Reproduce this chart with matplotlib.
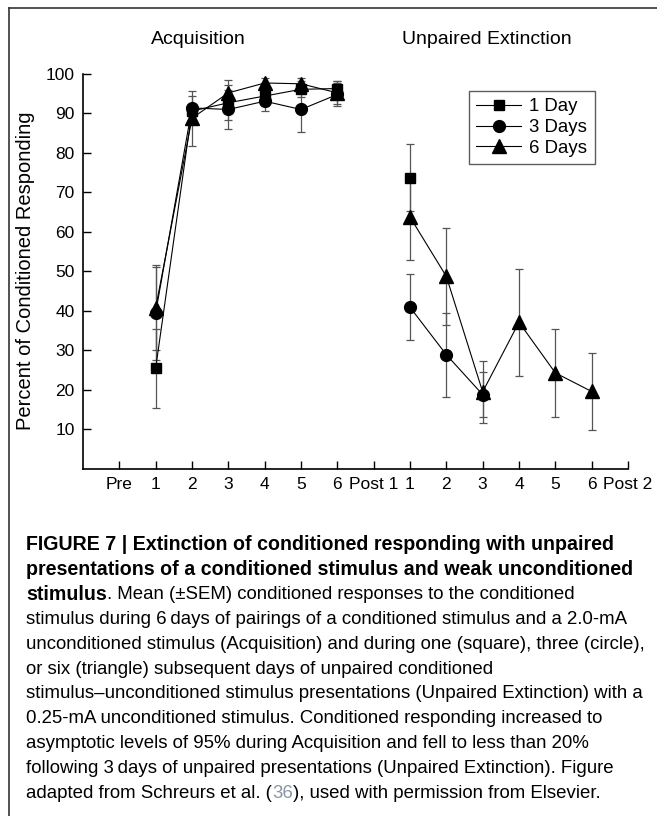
import numpy as np
import matplotlib
matplotlib.use('Agg')
import matplotlib.pyplot as plt
from matplotlib.lines import Line2D

plt.rcParams['font.family'] = ['Liberation Sans', 'DejaVu Sans']

# x categories (Pre, Acquisition 1-6, Post 1, Extinction 1-6, Post 2)
tick_labels = ['Pre', '1', '2', '3', '4', '5', '6', 'Post 1',
               '1', '2', '3', '4', '5', '6', 'Post 2']
acq_days = [1, 2, 3, 4, 5, 6]
ext_days = [1, 2, 3, 4, 5, 6]

# Acquisition, mean and SEM
acq_1day = [25.5, 90.5, 92.6, 94.3, 96.0, 96.2]
acq_1day_err = [10.0, 1.5, 4.4, 2.5, 2.0, 1.8]
acq_3day = [39.5, 91.3, 90.9, 93.0, 90.9, 94.7]
acq_3day_err = [12.0, 3.0, 5.0, 2.5, 5.7, 3.0]
acq_6day = [40.7, 88.7, 95.1, 97.6, 97.4, 95.1]
acq_6day_err = [10.5, 7.0, 3.2, 1.3, 1.5, 2.9]

# Unpaired extinction, mean and SEM
ext_1day = [73.7]
ext_1day_err = [8.5]
ext_3day = [40.9, 28.9, 18.8]
ext_3day_err = [8.3, 10.6, 5.6]
ext_6day = [63.7, 48.7, 19.5, 37.1, 24.3, 19.6]
ext_6day_err = [10.8, 12.3, 7.8, 13.5, 11.2, 9.7]

W, H = 657, 816
fig = plt.figure(figsize=(W / 100, H / 100), dpi=100)

def fx(px):
    return px / W

def fy(py):
    return 1 - py / H

ax_l, ax_r, ax_t, ax_b = 83, 628, 73.5, 469
ax = fig.add_axes([fx(ax_l), fy(ax_b), fx(ax_r) - fx(ax_l), fy(ax_t) - fy(ax_b)])

acq_x = np.array(acq_days) + 1
ext_x = np.array(ext_days) + 8

series = [
    ('1 Day', 's', 7, acq_1day, acq_1day_err, ext_1day, ext_1day_err),
    ('3 Days', 'o', 8.5, acq_3day, acq_3day_err, ext_3day, ext_3day_err),
    ('6 Days', '^', 10, acq_6day, acq_6day_err, ext_6day, ext_6day_err),
]

for name, mk, ms, a, ae, e, ee in series:
    ax.errorbar(acq_x, a, yerr=ae, fmt='none', ecolor='#555555', elinewidth=0.9,
                capsize=3, capthick=0.9, zorder=2)
    ax.plot(acq_x, a, color='black', lw=0.8, marker=mk, ms=ms, mfc='black', mec='black', zorder=3)
    ex = ext_x[:len(e)]
    ax.errorbar(ex, e, yerr=ee, fmt='none', ecolor='#555555', elinewidth=0.9,
                capsize=3, capthick=0.9, zorder=2)
    ax.plot(ex, e, color='black', lw=0.8, marker=mk, ms=ms, mfc='black', mec='black', zorder=3)

ax.set_xlim(0, 15)
ax.set_ylim(0, 100)
ax.set_xticks(np.arange(1, 16))
ax.set_xticklabels(tick_labels)
ax.set_yticks(np.arange(10, 101, 10))
ax.tick_params(direction='in', length=6, width=1, labelsize=12.5, pad=6)
for s in ['top', 'right']:
    ax.spines[s].set_visible(False)
for s in ['left', 'bottom']:
    ax.spines[s].set_linewidth(1.2)
ax.set_ylabel('Percent of Conditioned Responding', fontsize=14.5, labelpad=8)

handles = [Line2D([], [], color='black', lw=0.8, marker=m, ms=ms, mfc='black', mec='black')
           for _, m, ms, *_ in series]
leg = ax.legend(handles, [s[0] for s in series], loc='upper left',
                bbox_to_anchor=((469 - ax_l) / (ax_r - ax_l), 1 - (91 - ax_t) / (ax_b - ax_t)),
                borderaxespad=0, frameon=True, fancybox=False, edgecolor='#333333',
                fontsize=13.4, handlelength=2.4, borderpad=0.4, labelspacing=0.2,
                handletextpad=0.45)
leg.get_frame().set_linewidth(1.0)

fig.text(fx(198), fy(39), 'Acquisition', ha='center', va='center', fontsize=14)
fig.text(fx(487), fy(39), 'Unpaired Extinction', ha='center', va='center', fontsize=14)

# frame around the figure panel
fig.add_artist(Line2D([fx(8.5), fx(8.5)], [0, fy(8)], color='#333333', lw=1.2))
fig.add_artist(Line2D([fx(8.5), 1], [fy(8), fy(8)], color='#333333', lw=1.2))

# caption
cap_size = 13.4
bold_size = 14.1
x0 = fx(26)
y_first = 545
dy = 24.8
bold_lines = ['FIGURE 7 | Extinction of conditioned responding with unpaired',
              'presentations of a conditioned stimulus and weak unconditioned']
plain_lines = [
    'stimulus during 6\u2009days of pairings of a conditioned stimulus and a 2.0-mA',
    'unconditioned stimulus (Acquisition) and during one (square), three (circle),',
    'or six (triangle) subsequent days of unpaired conditioned',
    'stimulus\u2013unconditioned stimulus presentations (Unpaired Extinction) with a',
    '0.25-mA unconditioned stimulus. Conditioned responding increased to',
    'asymptotic levels of 95% during Acquisition and fell to less than 20%',
    'following 3\u2009days of unpaired presentations (Unpaired Extinction). Figure',
]
for i, t in enumerate(bold_lines):
    fig.text(x0, fy(y_first + i * dy), t, fontsize=bold_size, fontweight='bold', va='center')

renderer = fig.canvas.get_renderer()
row = y_first + 2 * dy
tb = fig.text(x0, fy(row), 'stimulus', fontsize=bold_size, fontweight='bold', va='center')
bb = tb.get_window_extent(renderer)
fig.text(bb.x1 / W, fy(row), '. Mean (\u00b1SEM) conditioned responses to the conditioned',
         fontsize=cap_size, va='center')
for i, t in enumerate(plain_lines):
    fig.text(x0, fy(y_first + (3 + i) * dy), t, fontsize=cap_size, va='center')

row = y_first + 10 * dy
t1 = fig.text(x0, fy(row), 'adapted from Schreurs et al. (', fontsize=cap_size, va='center')
b1 = t1.get_window_extent(renderer)
t2 = fig.text(b1.x1 / W, fy(row), '36', fontsize=cap_size, va='center', color='#8c95a3')
b2 = t2.get_window_extent(renderer)
fig.text(b2.x1 / W, fy(row), '), used with permission from Elsevier.', fontsize=cap_size, va='center')

fig.savefig('out.png', dpi=100)
